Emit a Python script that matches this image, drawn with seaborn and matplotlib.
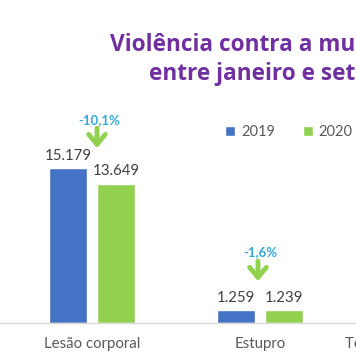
import matplotlib
matplotlib.use('Agg')
import matplotlib.pyplot as plt
import matplotlib.transforms as mtransforms
import seaborn as sns
import pandas as pd

# ---- data ----
categorias = ['Lesão corporal', 'Estupro', 'Tentativas de feminicídio']
anos = ['2019', '2020']
valores_2019 = [15179, 1259, 310]
valores_2020 = [13649, 1239, 290]
titulo_l1 = 'Violência contra a mulher no estado'
titulo_l2 = 'entre janeiro e setembro de 2020'

sns.set_theme(style='white')
plt.rcParams['font.family'] = ['Lato', 'DejaVu Sans']

W, H = 356, 364
fig = plt.figure(figsize=(W / 100, H / 100), dpi=100)
fig.patch.set_facecolor('white')
ax = fig.add_axes([0 / W, (H - 323) / H, 512 / W, 204 / H])

df = pd.DataFrame({
    'categoria': categorias * 2,
    'ano': [anos[0]] * len(categorias) + [anos[1]] * len(categorias),
    'valor': valores_2019 + valores_2020,
})

sns.barplot(data=df, x='categoria', y='valor', hue='ano',
            palette=['#4472C4', '#92D050'], width=0.571, gap=0.21,
            saturation=1, ax=ax, legend=True)

ax.set_xlim(-92 / 168, 2.5)
ax.set_ylim(0, 20000)
ax.set_xlabel('')
ax.set_ylabel('')
ax.set_yticks([])
ax.tick_params(axis='x', length=0, pad=10, labelsize=10.8, labelcolor='#595959')
for s in ['left', 'right', 'top']:
    ax.spines[s].set_visible(False)
ax.spines['bottom'].set_color('#D9D9D9')
ax.spines['bottom'].set_linewidth(1)

def fmt(v):
    return f'{v:,.0f}'.replace(',', '.')

for cont in ax.containers:
    ax.bar_label(cont, labels=[fmt(v) for v in cont.datavalues],
                 padding=4, fontsize=10.8, color='#404040')

# percent change annotations
x_off = [5, -2, 0]
tip_off = [20, 29, 25]
pct_off = [48, 58, 54]
for i, (a, b) in enumerate(zip(valores_2019, valores_2020)):
    pct = (b - a) / a * 100
    txt = f'{pct:.1f}%'.replace('.', ',')
    top = max(a, b)
    t_tip = mtransforms.offset_copy(ax.transData, fig=fig, x=x_off[i], y=tip_off[i], units='dots')
    t_tail = mtransforms.offset_copy(ax.transData, fig=fig, x=x_off[i], y=tip_off[i] + 20, units='dots')
    ax.annotate('', xy=(i, top), xycoords=t_tip, xytext=(i, top), textcoords=t_tail,
                arrowprops=dict(arrowstyle='->, head_length=0.6, head_width=0.5',
                                lw=3.5, color='#92D050', shrinkA=0, shrinkB=0),
                annotation_clip=False)
    t_pct = mtransforms.offset_copy(ax.transData, fig=fig, x=x_off[i] + 2, y=pct_off[i], units='dots')
    ax.text(i, top, txt, transform=t_pct, ha='center', va='center',
            fontsize=9.5, fontweight='bold', color='#36A9DC')

handles, labels = ax.get_legend_handles_labels()
ax.legend(handles, labels, ncol=2, frameon=False, loc='center left',
          bbox_to_anchor=(225 / W, 1 - 132 / H), bbox_transform=fig.transFigure,
          handlelength=0.7, handleheight=0.7, handletextpad=0.4,
          columnspacing=1.9, fontsize=10.5, labelcolor='#595959',
          borderaxespad=0, borderpad=0)

fig.text(110 / W, 1 - 51 / H, titulo_l1, ha='left', va='baseline',
         fontsize=16.3, fontweight='bold', color='#7030A0', family=['Open Sans', 'DejaVu Sans'])
fig.text(149 / W, 1 - 80 / H, titulo_l2, ha='left', va='baseline',
         fontsize=16.3, fontweight='bold', color='#7030A0', family=['Open Sans', 'DejaVu Sans'])

fig.savefig('out.png', dpi=100, facecolor='white')
